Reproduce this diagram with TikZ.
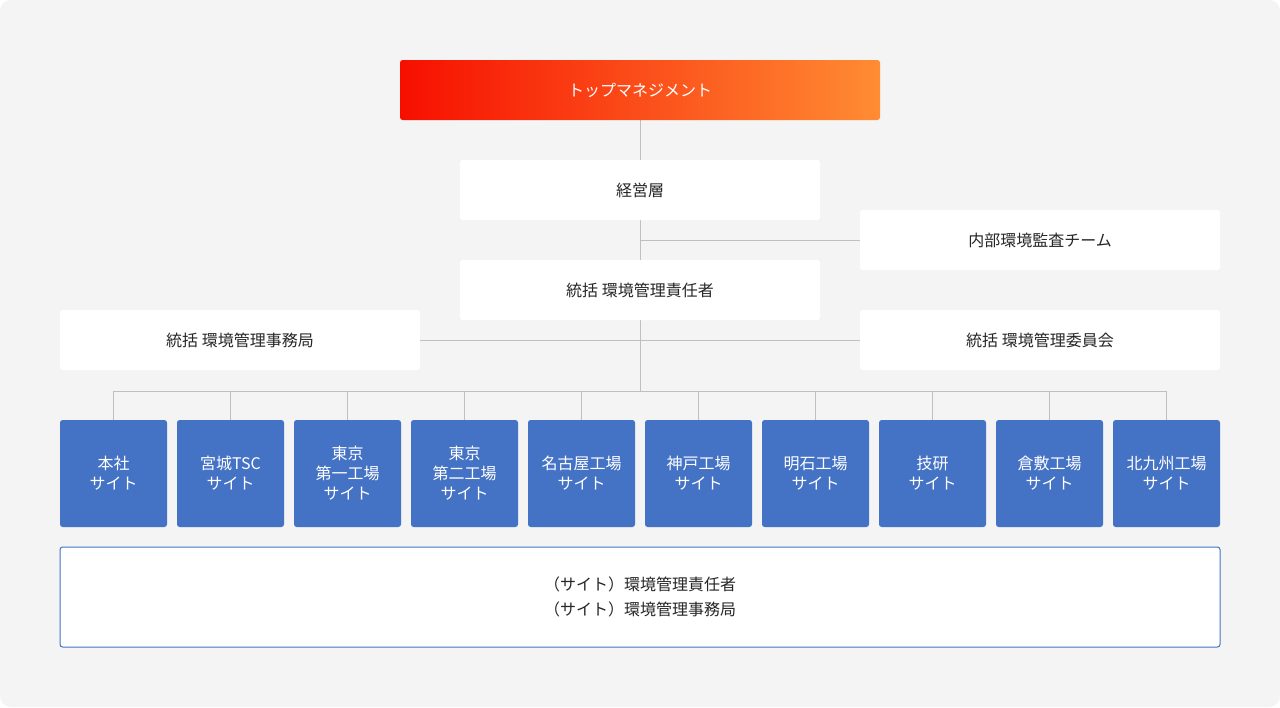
\documentclass[tikz,border=0pt]{standalone}
\usepackage{fontspec}
\setmainfont{Noto Sans CJK JP}
\begin{document}
\begin{tikzpicture}[x=0.75pt,y=-0.75pt,
  box/.style={fill=white,rounded corners=2pt,draw=none,font=\fontsize{12}{15}\selectfont,text=black!85},
  site/.style={fill=blue1,rounded corners=2pt,text=white,font=\fontsize{12}{15}\selectfont,align=center,minimum width=80.25pt,minimum height=80.25pt,inner sep=0pt},
  ln/.style={draw=black!25,line width=0.6pt}]
\definecolor{blue1}{HTML}{4472C4}
\definecolor{bg}{HTML}{F4F4F4}
\fill[bg,rounded corners=8pt] (0,0) rectangle (1280,707);
\useasboundingbox (0,0) rectangle (1280,707);
% lines
\coordinate (j1) at (640,240);
\coordinate (j2) at (640,340);
\coordinate (j3) at (640,391);
\draw[ln] (640,120) -- (j3);
\draw[ln] (113,391) -- (1166,391);
% boxes
\node[minimum width=360pt,minimum height=45pt,rounded corners=2pt,left color={rgb,255:red,247;green,15;blue,0},right color={rgb,255:red,255;green,140;blue,51},text=white,font=\fontsize{12}{15}\selectfont] (top) at (640,90) {トップマネジメント};
\node[box,minimum width=270pt,minimum height=45pt] (keiei) at (640,190) {経営層};
\node[box,minimum width=270pt,minimum height=45pt] (naibu) at (1040,240) {内部環境監査チーム};
\node[box,minimum width=270pt,minimum height=45pt] (sekinin) at (640,290) {統括 環境管理責任者};
\node[box,minimum width=270pt,minimum height=45pt] (jimu) at (240,340) {統括 環境管理事務局};
\node[box,minimum width=270pt,minimum height=45pt] (iinkai) at (1040,340) {統括 環境管理委員会};
\draw[ln] (j1) -- (naibu.west);
\draw[ln] (jimu.east) -- (iinkai.west);
% sites
\foreach \i/\t in {0/{本社\\サイト},1/{宮城TSC\\サイト},2/{東京\\第一工場\\サイト},3/{東京\\第二工場\\サイト},4/{名古屋工場\\サイト},5/{神戸工場\\サイト},6/{明石工場\\サイト},7/{技研\\サイト},8/{倉敷工場\\サイト},9/{北九州工場\\サイト}}{
  \node[site] (s\i) at ({113.5+117*\i},473.5) {\t};
  \draw[ln] (s\i.north) -- ++(0,-29);
}
\node[fill=white,draw=blue1,line width=0.75pt,rounded corners=2pt,minimum width=870pt,minimum height=75pt,align=center,font=\fontsize{12}{19}\selectfont,text=black!85] (bottom) at (640,597) {（サイト）環境管理責任者\\（サイト）環境管理事務局};
\end{tikzpicture}
\end{document}
